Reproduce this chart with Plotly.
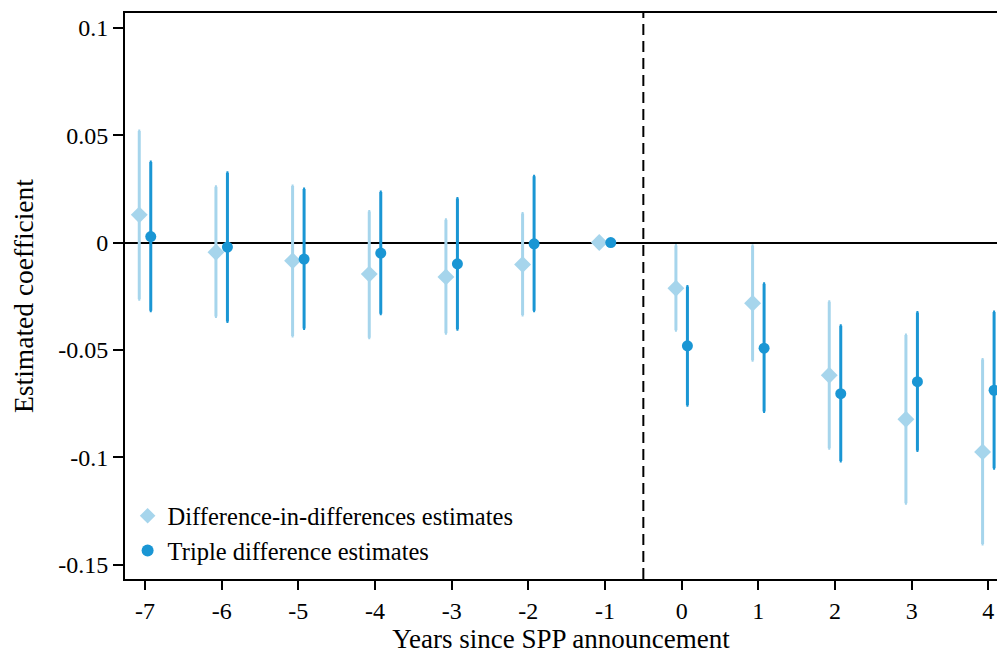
import plotly.graph_objects as go

years = [-7, -6, -5, -4, -3, -2, -1, 0, 1, 2, 3, 4]
x_labels = ["-7", "-6", "-5", "-4", "-3", "-2", "-1", "0", "1", "2", "3", "4"]

did_est = [0.0129, -0.0045, -0.0085, -0.0147, -0.0160, -0.0102, 0.0, -0.0213, -0.0283, -0.0618, -0.0823, -0.0975]
did_hi = [0.0520, 0.0260, 0.0263, 0.0144, 0.0106, 0.0135, 0.0, -0.0014, -0.0015, -0.0276, -0.0431, -0.0545]
did_lo = [-0.0264, -0.0345, -0.0435, -0.0443, -0.0422, -0.0338, 0.0, -0.0408, -0.0548, -0.0958, -0.1214, -0.1404]

ddd_est = [0.0028, -0.0021, -0.0077, -0.0049, -0.0099, -0.0006, 0.0, -0.0481, -0.0492, -0.0704, -0.0648, -0.0688]
ddd_hi = [0.0375, 0.0325, 0.0249, 0.0235, 0.0205, 0.0309, 0.0, -0.0205, -0.0192, -0.0388, -0.0326, -0.0323]
ddd_lo = [-0.0318, -0.0368, -0.0400, -0.0332, -0.0404, -0.0318, 0.0, -0.0758, -0.0787, -0.1017, -0.0969, -0.1051]

y_ticks = [-0.15, -0.1, -0.05, 0, 0.05, 0.1]
y_labels = ["-0.15", "-0.1", "-0.05", "0", "0.05", "0.1"]

LIGHT = "#a6d5ec"
DARK = "#1a96d4"
FONT = "Liberation Serif"
offset = 0.075

fig = go.Figure()
fig.add_trace(go.Scatter(
    x=[v - offset for v in years], y=did_est, mode="markers",
    name="Difference-in-differences estimates",
    marker=dict(symbol="diamond", size=13, color=LIGHT),
    error_y=dict(type="data", symmetric=False,
                 array=[h - e for h, e in zip(did_hi, did_est)],
                 arrayminus=[e - l for e, l in zip(did_est, did_lo)],
                 color=LIGHT, thickness=3, width=1),
))
fig.add_trace(go.Scatter(
    x=[v + offset for v in years], y=ddd_est, mode="markers",
    name="Triple difference estimates",
    marker=dict(symbol="circle", size=11, color=DARK),
    error_y=dict(type="data", symmetric=False,
                 array=[h - e for h, e in zip(ddd_hi, ddd_est)],
                 arrayminus=[e - l for e, l in zip(ddd_est, ddd_lo)],
                 color=DARK, thickness=3, width=1),
))

fig.add_shape(type="line", xref="x", yref="paper", x0=-0.5, x1=-0.5, y0=0, y1=1,
              line=dict(color="black", width=2, dash="11px,6px"), layer="below")

fig.update_layout(
    width=997, height=654,
    margin=dict(l=125, r=0, t=13, b=75),
    paper_bgcolor="white", plot_bgcolor="white",
    font=dict(family=FONT, color="black", size=24),
    showlegend=True,
    legend=dict(x=0.003, y=0.01, xanchor="left", yanchor="bottom",
                bgcolor="rgba(0,0,0,0)", font=dict(size=24.5, family=FONT),
                tracegroupgap=0, itemsizing="constant"),
    xaxis=dict(range=[-7.261, 4.113], tickvals=years, ticktext=x_labels,
               showgrid=False, zeroline=False, showline=True, linecolor="black",
               linewidth=2, mirror=True, ticks="outside", ticklen=9, tickwidth=1.5,
               tickcolor="black", tickfont=dict(size=24, family=FONT),
               title=dict(text="Years since SPP announcement", font=dict(size=27, family=FONT), standoff=11)),
    yaxis=dict(range=[-0.1567, 0.1069], tickvals=y_ticks, ticktext=y_labels,
               showgrid=False, zeroline=True, zerolinecolor="black", zerolinewidth=2,
               showline=True, linecolor="black", linewidth=2, ticks="outside",
               ticklen=10, tickwidth=1.5, tickcolor="black",
               tickfont=dict(size=24, family=FONT),
               title=dict(text="Estimated coefficient", font=dict(size=27.5, family=FONT), standoff=17)),
)

fig.write_html("out.html")
